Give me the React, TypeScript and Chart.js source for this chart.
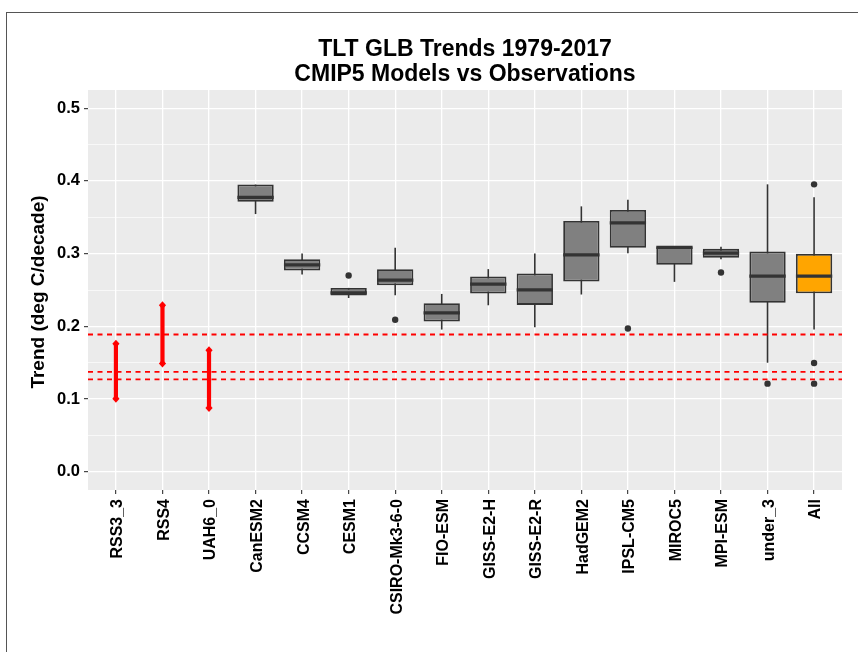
import React, { useEffect, useRef } from 'react';
import { Chart, registerables } from 'chart.js';

Chart.register(...registerables);

const FONT = "'Liberation Sans', Arial, Helvetica, sans-serif";

// ---- data ----
const categories = [
  'RSS3_3', 'RSS4', 'UAH6_0', 'CanESM2', 'CCSM4', 'CESM1', 'CSIRO-Mk3-6-0', 'FIO-ESM',
  'GISS-E2-H', 'GISS-E2-R', 'HadGEM2', 'IPSL-CM5', 'MIROC5', 'MPI-ESM', 'under_3', 'All',
];

// observations: trend and confidence range
const obsNames = ['RSS3_3', 'RSS4', 'UAH6_0'];
const obsTrend = [0.1375, 0.1888, 0.1272];
const obsLow = [0.1005, 0.149, 0.0876];
const obsHigh = [0.176, 0.229, 0.167];

// CMIP5 model boxplots
const modelNames = [
  'CanESM2', 'CCSM4', 'CESM1', 'CSIRO-Mk3-6-0', 'FIO-ESM', 'GISS-E2-H', 'GISS-E2-R',
  'HadGEM2', 'IPSL-CM5', 'MIROC5', 'MPI-ESM', 'under_3', 'All',
];
const whiskerLow = [0.3544, 0.2713, 0.239, 0.2428, 0.1956, 0.229, 0.1988, 0.2438, 0.3007, 0.2612, 0.2924, 0.150, 0.1956];
const q1 = [0.3714, 0.2768, 0.2424, 0.2566, 0.2066, 0.2452, 0.2295, 0.2617, 0.308, 0.2846, 0.2942, 0.2323, 0.2456];
const median = [0.3774, 0.2846, 0.246, 0.2635, 0.2185, 0.258, 0.2502, 0.2984, 0.3424, 0.3085, 0.3007, 0.269, 0.269];
const q3 = [0.395, 0.2924, 0.2529, 0.2787, 0.2318, 0.2686, 0.2727, 0.3448, 0.36, 0.3094, 0.3066, 0.303, 0.2997];
const whiskerHigh = [0.395, 0.3003, 0.2529, 0.308, 0.2446, 0.2787, 0.3003, 0.365, 0.374, 0.3094, 0.3094, 0.3953, 0.3774];

const outlierModels = ['CESM1', 'CSIRO-Mk3-6-0', 'IPSL-CM5', 'MPI-ESM', 'under_3', 'All', 'All', 'All'];
const outlierValues = [0.270, 0.209, 0.197, 0.274, 0.1212, 0.3953, 0.1496, 0.1212];

const yTickValues = [0, 0.05, 0.1, 0.15, 0.2, 0.25, 0.3, 0.35, 0.4, 0.45, 0.5];

const titleLines = ['TLT GLB Trends 1979-2017', 'CMIP5 Models vs Observations'];
const yTitle = 'Trend (deg C/decade)';

const isMajor = (v: number) => Math.abs(v * 10 - Math.round(v * 10)) < 1e-6;
const catIndex = (name: string) => categories.indexOf(name);

const decorPlugin = {
  id: 'ggDecor',
  beforeDraw(chart: any) {
    const { ctx, chartArea: a } = chart;
    ctx.save();
    ctx.fillStyle = '#EBEBEB';
    ctx.fillRect(a.left, a.top, a.right - a.left, a.bottom - a.top);
    ctx.restore();
  },
  beforeDatasetsDraw(chart: any) {
    const { ctx } = chart;
    const xs = chart.scales.x;
    const ys = chart.scales.y;
    ctx.save();
    ctx.strokeStyle = '#333333';
    ctx.lineWidth = 1.6;
    modelNames.forEach((m, i) => {
      const x = xs.getPixelForValue(catIndex(m));
      ctx.beginPath();
      ctx.moveTo(x, ys.getPixelForValue(whiskerLow[i]));
      ctx.lineTo(x, ys.getPixelForValue(whiskerHigh[i]));
      ctx.stroke();
    });
    ctx.restore();
  },
  afterDatasetsDraw(chart: any) {
    const { ctx, chartArea: a } = chart;
    const xs = chart.scales.x;
    const ys = chart.scales.y;
    const meta = chart.getDatasetMeta(0);
    ctx.save();
    // medians
    ctx.strokeStyle = '#333333';
    ctx.lineWidth = 3.2;
    modelNames.forEach((m, i) => {
      const el = meta.data[i];
      const half = el.width / 2;
      const y = ys.getPixelForValue(median[i]);
      ctx.beginPath();
      ctx.moveTo(el.x - half, y);
      ctx.lineTo(el.x + half, y);
      ctx.stroke();
    });
    // observation dashed trend lines
    ctx.strokeStyle = '#FF0000';
    ctx.lineWidth = 1.8;
    ctx.setLineDash([5, 4.5]);
    obsTrend.forEach((v) => {
      const y = ys.getPixelForValue(v);
      ctx.beginPath();
      ctx.moveTo(a.left, y);
      ctx.lineTo(a.right, y);
      ctx.stroke();
    });
    ctx.setLineDash([]);
    // observation ranges
    ctx.lineWidth = 4.2;
    ctx.fillStyle = '#FF0000';
    obsNames.forEach((n, i) => {
      const x = xs.getPixelForValue(catIndex(n));
      const y0 = ys.getPixelForValue(obsLow[i]);
      const y1 = ys.getPixelForValue(obsHigh[i]);
      ctx.beginPath();
      ctx.moveTo(x, y0);
      ctx.lineTo(x, y1);
      ctx.stroke();
      [y0, y1].forEach((y) => {
        ctx.beginPath();
        ctx.moveTo(x, y - 4);
        ctx.lineTo(x + 3.6, y);
        ctx.lineTo(x, y + 4);
        ctx.lineTo(x - 3.6, y);
        ctx.closePath();
        ctx.fill();
      });
    });
    ctx.restore();
  },
  afterDraw(chart: any) {
    const { ctx, chartArea: a } = chart;
    ctx.save();
    ctx.fillStyle = '#000000';
    ctx.textAlign = 'center';
    ctx.textBaseline = 'alphabetic';
    ctx.font = `bold 23px ${FONT}`;
    const cx = (a.left + a.right) / 2;
    ctx.fillText(titleLines[0], cx, 56);
    ctx.fillText(titleLines[1], cx, 81);
    ctx.translate(38.5, (a.top + a.bottom) / 2 + 2);
    ctx.rotate(-Math.PI / 2);
    ctx.font = `bold 19px ${FONT}`;
    ctx.textBaseline = 'middle';
    ctx.fillText(yTitle, 0, 0);
    ctx.restore();
  },
};

export default function App() {
  const canvasRef = useRef<HTMLCanvasElement | null>(null);

  useEffect(() => {
    const canvas = canvasRef.current;
    if (!canvas) return;
    const chart = new Chart(canvas, {
      type: 'bar',
      data: {
        datasets: [
          {
            type: 'bar',
            data: modelNames.map((m, i) => ({ x: catIndex(m), y: [q1[i], q3[i]] })) as any,
            backgroundColor: modelNames.map((m) => (m === 'All' ? '#FFA500' : '#808080')),
            borderColor: '#333333',
            borderWidth: 1.8,
            borderSkipped: false,
            barPercentage: 0.78,
            categoryPercentage: 1,
          } as any,
          {
            type: 'scatter',
            data: outlierModels.map((m, i) => ({ x: catIndex(m), y: outlierValues[i] })),
            pointRadius: 3.2,
            pointBackgroundColor: '#333333',
            pointBorderColor: '#333333',
            pointBorderWidth: 0,
          } as any,
        ],
      },
      options: {
        animation: false,
        responsive: false,
        maintainAspectRatio: false,
        layout: { padding: { top: 90, right: 16, left: 0, bottom: 0 } },
        plugins: {
          legend: { display: false },
          tooltip: { enabled: false },
          title: { display: false },
        },
        scales: {
          x: {
            type: 'linear',
            min: -0.6,
            max: 15.6,
            offset: false,
            afterBuildTicks: (s: any) => {
              s.ticks = categories.map((_, i) => ({ value: i }));
            },
            afterFit: (s: any) => {
              s.height = 162;
            },
            ticks: {
              autoSkip: false,
              maxRotation: 90,
              minRotation: 90,
              padding: 5,
              labelOffset: 2,
              color: '#000000',
              font: { family: FONT, size: 16, weight: 'bold' },
              callback: (v: any) => categories[Math.round(Number(v))] ?? '',
            },
            grid: {
              color: '#FFFFFF',
              lineWidth: 1.3,
              tickLength: 4,
              tickColor: '#333333',
              tickWidth: 1.1,
              offset: false,
            },
            border: { display: false },
          },
          y: {
            type: 'linear',
            min: -0.025,
            max: 0.525,
            afterBuildTicks: (s: any) => {
              s.ticks = yTickValues.map((v) => ({ value: v }));
            },
            afterFit: (s: any) => {
              s.width = 88;
            },
            ticks: {
              padding: 4,
              color: '#000000',
              font: { family: FONT, size: 16.5, weight: 'bold' },
              callback: (v: any) => (isMajor(Number(v)) ? Number(v).toFixed(1) : ''),
            },
            grid: {
              color: '#FFFFFF',
              lineWidth: (c: any) => (isMajor(c.tick.value) ? 1.3 : 0.65),
              tickLength: 4,
              tickColor: (c: any) => (isMajor(c.tick.value) ? '#333333' : 'rgba(0,0,0,0)'),
              tickWidth: 1.1,
            },
            border: { display: false },
          },
        },
      } as any,
      plugins: [decorPlugin],
    });
    return () => chart.destroy();
  }, []);

  return (
    <div
      style={{
        position: 'absolute',
        left: 0,
        top: 0,
        width: 858,
        height: 652,
        overflow: 'hidden',
        background: '#FFFFFF',
      }}
    >
      <div
        style={{
          position: 'absolute',
          left: 6,
          top: 12,
          width: 900,
          height: 700,
          borderLeft: '1.5px solid #555555',
          borderTop: '1.5px solid #555555',
        }}
      />
      <canvas
        ref={canvasRef}
        width={858}
        height={652}
        style={{ position: 'absolute', left: 0, top: 0, width: 858, height: 652 }}
      />
    </div>
  );
}
